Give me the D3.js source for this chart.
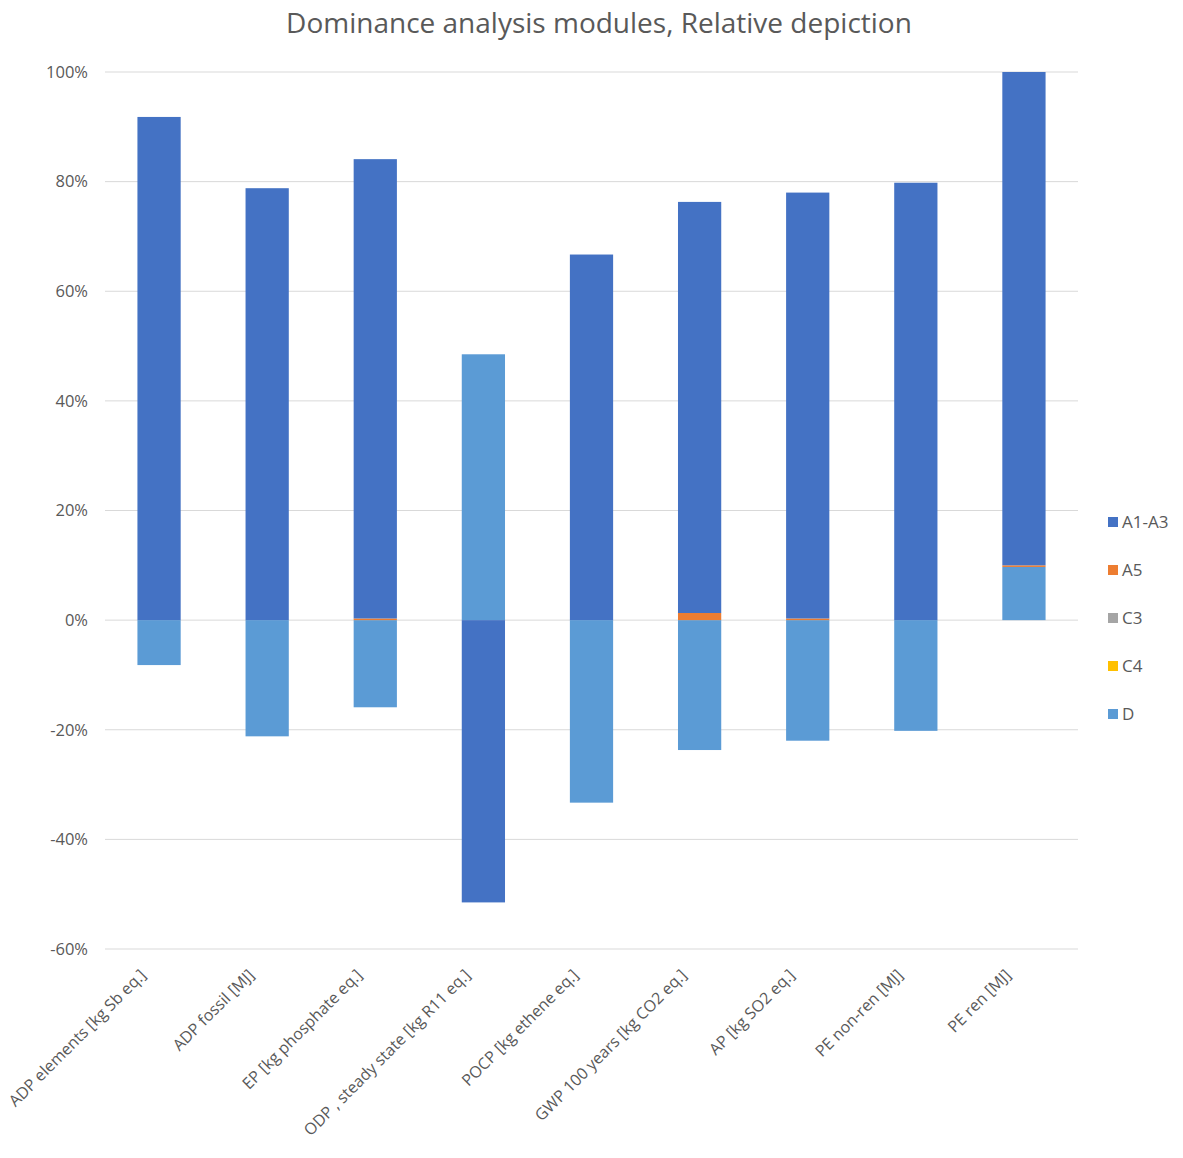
<!DOCTYPE html>
<html><head><meta charset="utf-8">
<script src="https://cdn.jsdelivr.net/npm/d3@7"></script>
<style>
html,body{margin:0;padding:0;background:#fff;}
svg text{font-family:"Open Sans","Liberation Sans",sans-serif;fill:#595959;}
</style></head>
<body><svg id="chart" width="1183" height="1158"></svg>
<script>
const categories = ["ADP elements [kg Sb eq.]","ADP fossil [MJ]","EP [kg phosphate eq.]","ODP , steady state [kg R11 eq.]","POCP [kg ethene eq.]","GWP 100 years [kg CO2 eq.]","AP [kg SO2 eq.]","PE non-ren [MJ]","PE ren [MJ]"];
const seriesNames = ["A1-A3","A5","C3","C4","D"];
const a1a3 = [91.8, 78.8, 83.8, -51.5, 66.7, 75.0, 77.7, 79.8, 90.0];
const a5   = [0.0, 0.0, 0.3, 0.0, 0.0, 1.3, 0.3, 0.0, 0.3];
const c3   = [0, 0, 0, 0, 0, 0, 0, 0, 0];
const c4   = [0, 0, 0, 0, 0, 0, 0, 0, 0];
const dMod = [-8.2, -21.2, -15.9, 48.5, -33.3, -23.7, -22.0, -20.2, 9.7];
const yTicks = [-60, -40, -20, 0, 20, 40, 60, 80, 100];
const colors = {"A1-A3":"#4472C4","A5":"#ED7D31","C3":"#A5A5A5","C4":"#FFC000","D":"#5B9BD5"};

const seriesValues = {"A1-A3":a1a3,"A5":a5,"C3":c3,"C4":c4,"D":dMod};
// stacking order (Excel): D first, then C4, C3, A5, A1-A3
const stackOrder = ["D","C4","C3","A5","A1-A3"];

const svg = d3.select("#chart");
const x = d3.scaleBand().domain(categories).range([105,1078]).paddingInner(0.6).paddingOuter(0.3);
const y = d3.scaleLinear().domain([-60,100]).range([949,72]);

// gridlines
svg.append("g").selectAll("line").data(yTicks).join("line")
  .attr("x1",105).attr("x2",1078)
  .attr("y1",d=>y(d)).attr("y2",d=>y(d))
  .attr("stroke","#d9d9d9").attr("stroke-width",1);

// y labels
svg.append("g").selectAll("text").data(yTicks).join("text")
  .attr("x",88).attr("y",d=>y(d)).attr("dy","0.35em")
  .attr("text-anchor","end").attr("font-size",16.5)
  .text(d=>d+"%");

// stacked bars
const rects = [];
categories.forEach((c,i)=>{
  let pos=0, neg=0;
  stackOrder.forEach(s=>{
    const v = seriesValues[s][i];
    if(v===0) return;
    let y0,y1;
    if(v>0){y0=pos; y1=pos+v; pos=y1;} else {y0=neg; y1=neg+v; neg=y1;}
    rects.push({c,s,y0,y1});
  });
});
svg.append("g").selectAll("rect").data(rects).join("rect")
  .attr("x",d=>x(d.c)).attr("width",x.bandwidth())
  .attr("y",d=>y(Math.max(d.y0,d.y1)))
  .attr("height",d=>Math.abs(y(d.y0)-y(d.y1)))
  .attr("fill",d=>colors[d.s]);

// x labels
svg.append("g").selectAll("text").data(categories).join("text")
  .attr("transform",d=>`translate(${x(d)+x.bandwidth()/2-12},976) rotate(-45)`)
  .attr("text-anchor","end").attr("font-size",16)
  .text(d=>d);

// title
svg.append("text").attr("x",599).attr("y",33).attr("text-anchor","middle")
  .attr("font-size",28).text("Dominance analysis modules, Relative depiction");

// legend
const lg = svg.append("g").selectAll("g").data(seriesNames).join("g")
  .attr("transform",(d,i)=>`translate(1108,${522+i*48})`);
lg.append("rect").attr("x",0).attr("y",-5).attr("width",10).attr("height",10).attr("fill",d=>colors[d]);
lg.append("text").attr("x",14).attr("y",0).attr("dy","0.35em").attr("font-size",17).text(d=>d);
</script></body></html>
